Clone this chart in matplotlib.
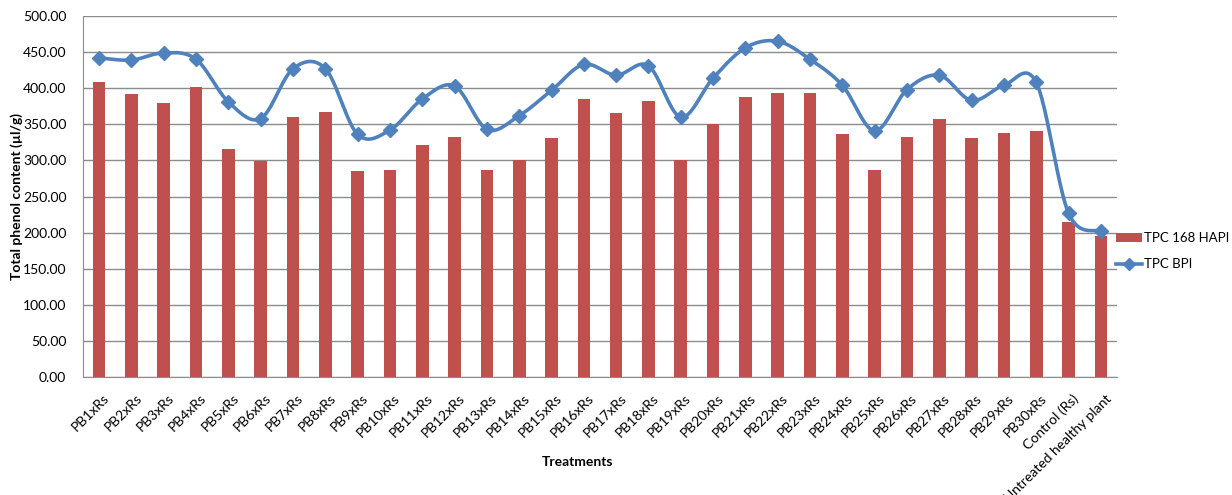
import numpy as np
import matplotlib
matplotlib.use('Agg')
import matplotlib.pyplot as plt
import matplotlib.transforms as mtransforms
from matplotlib.lines import Line2D
from matplotlib.patches import Patch

categories = [f"PB{i}xRs" for i in range(1, 31)] + ["Control (Rs)", "Untreated healthy plant"]
tpc_hapi = [409, 392, 380, 402, 316, 299, 360, 367, 286, 287,
            321, 333, 287, 300, 331, 385, 365, 382, 300, 350,
            388, 393, 393, 336, 287, 333, 357, 331, 338, 341,
            215, 195]
tpc_bpi = [442, 439, 449, 440, 381, 358, 427, 427, 336, 342,
           385, 403, 343, 362, 397, 433, 418, 431, 360, 414,
           456, 465, 440, 404, 341, 398, 418, 383, 404, 408,
           227, 202]
yticks = np.arange(0, 501, 50)

RED = '#C0504D'
BLUE = '#4F81BD'
FONT = 'Lato'


def smooth(xs, ys, n=24):
    pts = np.column_stack([xs, ys]).astype(float)
    N = len(pts)
    out = []
    t = np.linspace(0, 1, n)[:, None]
    for i in range(N - 1):
        p0 = pts[i - 1] if i > 0 else pts[i]
        p1 = pts[i]
        p2 = pts[i + 1]
        p3 = pts[i + 2] if i + 2 < N else pts[i + 1]
        c1 = p1 + (p2 - p0) / 6
        c2 = p2 - (p3 - p1) / 6
        seg = (1 - t) ** 3 * p1 + 3 * (1 - t) ** 2 * t * c1 + 3 * (1 - t) * t ** 2 * c2 + t ** 3 * p2
        out.append(seg if i == 0 else seg[1:])
    return np.vstack(out)


fig = plt.figure(figsize=(12.32, 4.95), dpi=100)
ax = fig.add_axes([83 / 1232, 1 - 377 / 495, (1117 - 83) / 1232, (377 - 16) / 495])

x = np.arange(len(categories))
ax.bar(x, tpc_hapi, width=0.39, color=RED, zorder=2)
curve = smooth(x, tpc_bpi)
ax.plot(curve[:, 0], curve[:, 1], color=BLUE, lw=2.6, zorder=3, solid_capstyle='round')
ax.plot(x, tpc_bpi, linestyle='none', marker='D', markersize=7.5, color=BLUE, zorder=4)

ax.set_xlim(-0.5, len(categories) - 0.5)
ax.set_ylim(0, 500)
ax.set_yticks(yticks)
ax.set_yticklabels([f"{v:.2f}" for v in yticks], fontsize=10, family=FONT)
ax.yaxis.grid(True, color='#8C8C8C', lw=1, zorder=0)
ax.set_axisbelow(True)
for s in ['top', 'right']:
    ax.spines[s].set_visible(False)
ax.spines['left'].set_color('#8C8C8C')
ax.spines['bottom'].set_color('#8C8C8C')
ax.tick_params(axis='y', length=0, pad=12)
ax.tick_params(axis='x', length=0, pad=11)
ax.set_xticks(x)
ax.set_xticklabels(categories, rotation=45, ha='right', rotation_mode='anchor',
                   fontsize=10, family=FONT)
offset = mtransforms.ScaledTranslation(4 / 100, 0, fig.dpi_scale_trans)
for lab in ax.get_xticklabels():
    lab.set_transform(lab.get_transform() + offset)

ax.set_ylabel('Total phenol content (µl/g)', fontsize=10, fontweight='bold', family=FONT, labelpad=0)
fig.text(578 / 1232, 1 - 462 / 495, 'Treatments', fontsize=10, fontweight='bold',
         family=FONT, ha='center', va='center')

handles = [Patch(facecolor=RED, edgecolor='none'),
           Line2D([0], [0], color=BLUE, lw=2.6, marker='D', markersize=6)]
fig.legend(handles, ['TPC 168 HAPI', 'TPC BPI'], loc='center left',
           bbox_to_anchor=(1113 / 1232, 1 - 251 / 495), frameon=False,
           prop={'family': FONT, 'size': 9.5}, handlelength=2.0, handletextpad=0.15,
           labelspacing=1.1, borderpad=0.2, borderaxespad=0.0)

fig.savefig('out.png', dpi=100, facecolor='white')
